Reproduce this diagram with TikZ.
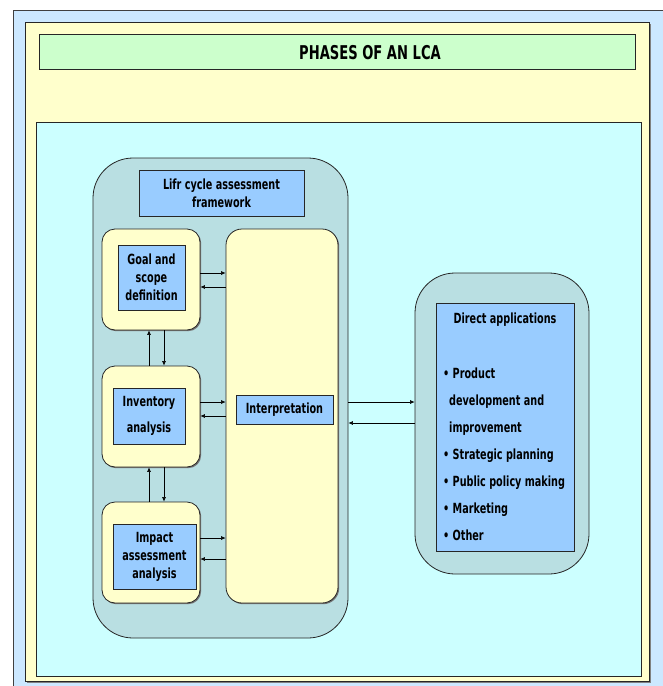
\documentclass[tikz,border=0pt]{standalone}
\usepackage{fontspec}
\newfontfamily\lcafont{DejaVu Sans}[FakeStretch=0.69]
\usetikzlibrary{arrows.meta,positioning,shadows}
\definecolor{pageblue}{HTML}{CCE8FF}
\definecolor{paneyellow}{HTML}{FFFFCC}
\definecolor{titlegreen}{HTML}{CCFFCC}
\definecolor{panecyan}{HTML}{CCFFFF}
\definecolor{framegrey}{HTML}{B9DFE2}
\definecolor{boxblue}{HTML}{99CCFF}
\begin{document}
\begin{tikzpicture}[x=1pt,y=-1pt]
    \tikzset{
    outline/.style={draw=black!85,line width=0.8pt},
    frame box/.style={outline,fill=framegrey,rounded corners=40pt},
    yellow box/.style={outline,fill=paneyellow,rounded corners=13pt,
        drop shadow={shadow xshift=1.2pt,shadow yshift=-1.2pt,fill=black!55,opacity=1}},
    blue box/.style={outline,fill=boxblue,inner sep=0pt,align=center,
        font=\lcafont\bfseries\fontsize{14}{18}\selectfont},
    plain text/.style={inner sep=0pt,font=\lcafont\bfseries\fontsize{14}{18}\selectfont},
    link/.style={-{Latex[length=4.5pt,width=4pt]},line width=0.6pt}
    }
    \useasboundingbox (0,0) rectangle (662,686);
    % page and panels
    \fill[pageblue] (13,10) rectangle (670,692);
    \draw[black!75,line width=0.8pt] (13,692) -- (13,10) -- (670,10);
    \fill[black!50] (27,24) rectangle (651,683);
    \draw[outline,fill=paneyellow] (25,22) rectangle (649,681);
    \node[outline,fill=titlegreen,minimum width=596pt,minimum height=35pt] (title) at (337,51.5) {};
    \node[plain text,font=\lcafont\bfseries\fontsize{19}{22}\selectfont] (titletext) at (370,53) {PHASES OF AN LCA};
    \draw[outline,fill=panecyan] (36,122) rectangle (641,676);
    % framework
    \node[frame box,minimum width=255pt,minimum height=480pt] (lca) at (220.5,398) {};
    \node[blue box,minimum width=165pt,minimum height=46pt] (lcatitle) at (221.5,193) {Lifr cycle assessment\\framework};
    \node[yellow box,minimum width=98pt,minimum height=101pt] (goal) at (151,279.5) {};
    \node[yellow box,minimum width=98pt,minimum height=101pt] (inv) at (151,416.5) {};
    \node[yellow box,minimum width=98pt,minimum height=101pt] (imp) at (151,552.5) {};
    \node[yellow box,rounded corners=16pt,minimum width=112pt,minimum height=374pt] (interp) at (282,416) {};
    \node[blue box,minimum width=67pt,minimum height=65pt] (goaltext) at (151.5,277.5) {Goal and\\scope\\definition};
    \node[blue box,minimum width=72pt,minimum height=56pt] (invtext) at (149,416) {Inventory\\[8pt]analysis};
    \node[blue box,minimum width=83pt,minimum height=65pt] (imptext) at (154.5,556.5) {Impact\\assessment\\analysis};
    \node[blue box,minimum width=97pt,minimum height=29pt] (interptext) at (284.5,409.5) {Interpretation};
    % applications
    \node[frame box,minimum width=174pt,minimum height=301pt] (apps) at (502,423.5) {};
    \node[blue box,minimum width=138pt,minimum height=248pt] (appsbox) at (505,427) {};
    \node[plain text] (appshead) at (505,320) {Direct applications};
    \node[plain text,font=\lcafont\bfseries\fontsize{14}{27}\selectfont,align=left,anchor=north west] (appslist) at (443,368)
        {\textbullet\ Product\\ \hspace*{6pt}development and\\ \hspace*{6pt}improvement\\
         \textbullet\ Strategic planning\\ \textbullet\ Public policy making\\
         \textbullet\ Marketing\\ \textbullet\ Other};
    % links
    \draw[link] (goal.east |- 0,273) -- (interp.west |- 0,273);
    \draw[link] (interp.west |- 0,287) -- (goal.east |- 0,287);
    \draw[link] (inv.east |- 0,402) -- (interp.west |- 0,402);
    \draw[link] (interp.west |- 0,416) -- (inv.east |- 0,416);
    \draw[link] (imp.east |- 0,538) -- (interp.west |- 0,538);
    \draw[link] (interp.west |- 0,559) -- (imp.east |- 0,559);
    \draw[link] (inv.north -| 149,0) -- (goal.south -| 149,0);
    \draw[link] (goal.south -| 164,0) -- (inv.north -| 164,0);
    \draw[link] (imp.north -| 149,0) -- (inv.south -| 149,0);
    \draw[link] (inv.south -| 164,0) -- (imp.north -| 164,0);
    \draw[link] (lca.east |- 0,402) -- (apps.west |- 0,402);
    \draw[link] (apps.west |- 0,423) -- (lca.east |- 0,423);
\end{tikzpicture}
\end{document}
